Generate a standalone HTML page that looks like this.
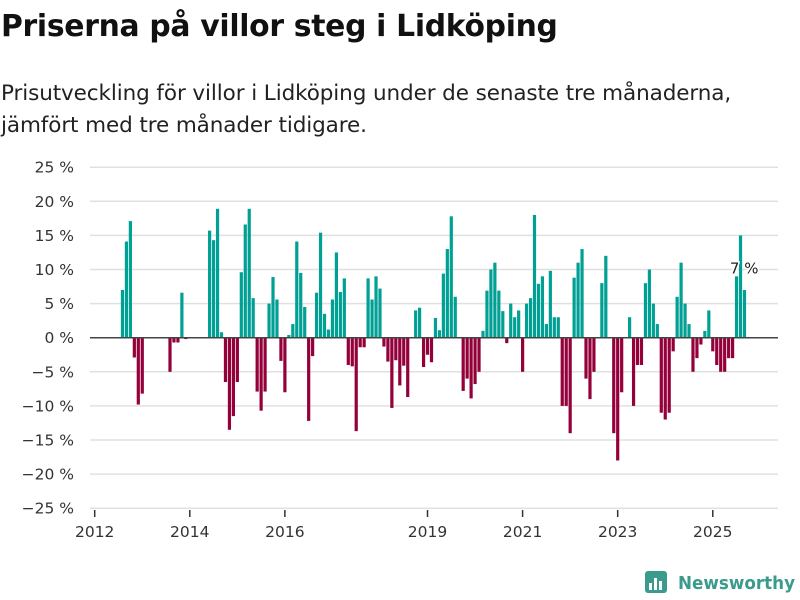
<!DOCTYPE html>
<html><head><meta charset="utf-8"><style>
body{margin:0;background:#fff;width:800px;height:600px;overflow:hidden;font-family:"DejaVu Sans","Liberation Sans",sans-serif;}
#title{position:absolute;left:1px;top:9px;font-size:29.8px;font-weight:bold;color:#111;margin:0;letter-spacing:-0.3px;white-space:nowrap}
#sub{position:absolute;left:1px;top:78px;font-size:21.5px;line-height:32px;color:#222;white-space:nowrap;letter-spacing:-0.1px}
svg{position:absolute;left:0;top:0}
</style></head><body>
<h1 id="title">Priserna på villor steg i Lidköping</h1>
<div id="sub">Prisutveckling för villor i Lidköping under de senaste tre månaderna,<br>jämfört med tre månader tidigare.</div>
<svg id="chart" width="800" height="600"></svg>
<script>
const yTicks=[25,20,15,10,5,0,-5,-10,-15,-20,-25];
const xTickYears=[2012,2014,2016,2019,2021,2023,2025];
const startYear=2012;
const values=[
0,0,0,0,0,0,7,14.1,17.1,-2.9,-9.8,-8.2,
0,0,0,0,0,0,-5,-0.7,-0.7,6.6,-0.2,0,
0,0,0,0,15.7,14.3,18.9,0.8,-6.5,-13.5,-11.5,-6.5,
9.6,16.6,18.9,5.8,-7.9,-10.7,-7.9,5,8.9,5.6,-3.4,-8,
0.4,2,14.1,9.5,4.5,-12.2,-2.7,6.6,15.4,3.5,1.2,5.6,
12.5,6.7,8.7,-4,-4.2,-13.7,-1.4,-1.4,8.7,5.6,9,7.2,
-1.3,-3.5,-10.3,-3.3,-7,-4.1,-8.7,0,4,4.4,-4.3,-2.5,
-3.6,2.9,1.1,9.4,13,17.8,6,0,-7.8,-6,-8.9,-6.8,
-5,1,6.9,10,11,6.9,3.9,-0.8,5,3,4,-5,
5,5.8,18,7.9,9,2,9.8,3,3,-10,-10,-14,
8.8,11,13,-6,-9,-5,0,8,12,0,-14,-18,
-8,0,3,-10,-4,-4,8,10,5,2,-11,-12,
-11,-2,6,11,5,2,-5,-3,-1,1,4,-2,
-4,-5,-5,-3,-3,9,15,7
];
const NS="http://www.w3.org/2000/svg";
const svg=document.getElementById('chart');
const x0=94.7, step=3.962, plotL=90, plotR=778, barShift=2;
const yScale=v=>337.7-v*6.82;
const xMonth=i=>x0+i*step;
function mk(t,a){const e=document.createElementNS(NS,t);for(const k in a)e.setAttribute(k,a[k]);svg.appendChild(e);return e;}
yTicks.forEach(v=>{
  const g=mk('line',{x1:plotL,x2:plotR,y1:yScale(v),y2:yScale(v),stroke:'#e0e0e0','stroke-width':1.5});
  
  
  const t=mk('text',{x:74,y:yScale(v)+5.5,'text-anchor':'end','font-size':15.5,fill:'#333'});
  t.textContent=(v<0?'−'+(-v):v)+' %';
  
  
});
xTickYears.forEach(y=>{
  const x=xMonth((y-startYear)*12);
  const l=mk('line',{x1:x,x2:x,y1:510,y2:517,stroke:'#333','stroke-width':1.5});
  
  
  const t=mk('text',{x:x,y:537,'text-anchor':'middle','font-size':15.5,fill:'#333'});
  t.textContent=y;
  
  
});
values.forEach((v,i)=>{
  if(v===0)return;
  const cx=xMonth(i+0.5)+barShift;
  const y1=yScale(Math.max(v,0)), y2=yScale(Math.min(v,0));
  const r=mk('rect',{x:cx-1.6,y:y1,width:3.2,height:y2-y1,fill:v>0?'#00a094':'#93003a'});
  
  
});
const zl=mk('line',{x1:plotL,x2:plotR,y1:yScale(0),y2:yScale(0),stroke:'#444','stroke-width':1.5});


const lastI=values.length-1;
const ann=mk('text',{x:xMonth(lastI+0.5)+16,y:yScale(10)+4,'text-anchor':'end','font-size':15,fill:'#222',stroke:'#fff','stroke-width':3,'paint-order':'stroke'});
ann.textContent=values[lastI]+' %';


const lg=mk('g',{});


const ic=mk('rect',{x:645,y:571,width:22,height:22,rx:3,fill:'#3a9b8c'});


[[649,583,3,7],[654,578,3,12],[659,581,3,9]].forEach(b=>{const r=mk('rect',{x:b[0],y:b[1],width:b[2],height:b[3],fill:'#fff'});});
const lt=mk('text',{x:678,y:589,'font-size':18,'font-weight':'bold',fill:'#3a9b8c',textLength:117,lengthAdjust:'spacingAndGlyphs',style:'font-family:"DejaVu Sans",sans-serif'});
lt.textContent='Newsworthy';


</script>
</body></html>
